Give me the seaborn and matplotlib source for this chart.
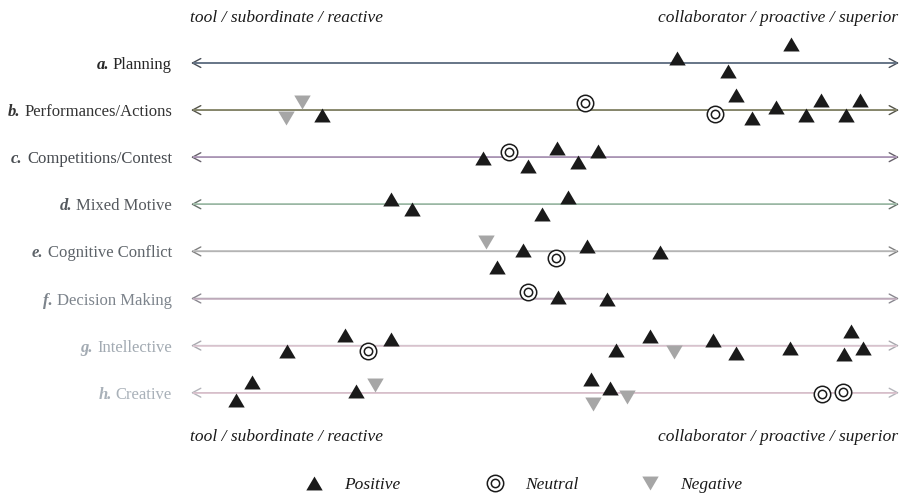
import matplotlib
matplotlib.use("Agg")
import matplotlib.pyplot as plt
import seaborn as sns
import pandas as pd
from matplotlib.lines import Line2D

# ---------------- data ----------------
letters = ["a.", "b.", "c.", "d.", "e.", "f.", "g.", "h."]
names = ["Planning", "Performances/Actions", "Competitions/Contest", "Mixed Motive",
         "Cognitive Conflict", "Decision Making", "Intellective", "Creative"]
left_label = "tool / subordinate / reactive"
right_label = "collaborator / proactive / superior"
kinds = ["Positive", "Neutral", "Negative"]

# (position on the continuum 0-100, vertical jitter in row units, kind)
a_marks = [(68.6, -0.11, "Positive"), (75.8, 0.17, "Positive"), (84.7, -0.40, "Positive")]
b_marks = [(15.7, -0.17, "Negative"), (13.4, 0.17, "Negative"), (18.5, 0.11, "Positive"),
           (55.6, -0.15, "Neutral"), (74.0, 0.09, "Neutral"), (77.0, -0.32, "Positive"),
           (79.2, 0.17, "Positive"), (82.6, -0.06, "Positive"), (86.9, 0.11, "Positive"),
           (89.0, -0.21, "Positive"), (92.5, 0.11, "Positive"), (94.5, -0.21, "Positive")]
c_marks = [(41.2, 0.02, "Positive"), (44.9, -0.11, "Neutral"), (47.6, 0.19, "Positive"),
           (51.7, -0.19, "Positive"), (54.7, 0.11, "Positive"), (57.5, -0.13, "Positive")]
d_marks = [(28.2, -0.11, "Positive"), (31.2, 0.11, "Positive"), (49.6, 0.21, "Positive"),
           (53.2, -0.15, "Positive")]
e_marks = [(41.7, -0.19, "Negative"), (43.2, 0.34, "Positive"), (46.9, -0.04, "Positive"),
           (51.6, 0.13, "Neutral"), (55.9, -0.11, "Positive"), (66.2, 0.02, "Positive")]
f_marks = [(47.6, -0.13, "Neutral"), (51.8, -0.04, "Positive"), (58.8, 0.02, "Positive")]
g_marks = [(13.6, 0.11, "Positive"), (21.8, -0.23, "Positive"), (25.0, 0.11, "Neutral"),
           (28.2, -0.13, "Positive"), (60.0, 0.09, "Positive"), (64.8, -0.21, "Positive"),
           (68.2, 0.13, "Negative"), (73.7, -0.11, "Positive"), (77.0, 0.15, "Positive"),
           (84.6, 0.06, "Positive"), (92.2, 0.17, "Positive"), (93.2, -0.30, "Positive"),
           (94.9, 0.06, "Positive")]
h_marks = [(6.4, 0.15, "Positive"), (8.6, -0.23, "Positive"), (23.3, -0.04, "Positive"),
           (26.0, -0.17, "Negative"), (56.5, -0.30, "Positive"), (56.8, 0.23, "Negative"),
           (59.2, -0.11, "Positive"), (61.6, 0.09, "Negative"), (89.1, 0.02, "Neutral"),
           (92.1, -0.02, "Neutral")]
all_marks = [a_marks, b_marks, c_marks, d_marks, e_marks, f_marks, g_marks, h_marks]

# ---------------- styling ----------------
line_colors = ["#65768a", "#8a8a6c", "#b79fc2", "#a9c9b3", "#c2c2c2", "#c9b3c4", "#e2cad5", "#dfc3cf"]
head_colors = ["#4a4f58", "#55554a", "#66606a", "#66706a", "#808080", "#8a8890", "#a8a8ae", "#b4b4ba"]
label_colors = ["#262626", "#333333", "#474b50", "#55595e", "#5e646a", "#7d848c", "#a2aab2", "#a9b1b9"]
pos_color = "#1a1a1a"
neg_color = "#a6a6a6"
SERIF = "Liberation Serif"

rows = []
for i, marks in enumerate(all_marks):
    for x, dy, k in marks:
        rows.append({"row": i, "x": x, "y": i + dy, "kind": k})
df = pd.DataFrame(rows)

sns.set_style("white")
plt.rcParams["font.family"] = [SERIF, "DejaVu Serif"]

W, H = 905, 496
fig = plt.figure(figsize=(W / 100, H / 100), dpi=100)
ax = fig.add_axes([0, 0, 1, 1])
ax.set_axis_off()

# map: x 0..100 spans pixels 191..899 ; rows spaced 47.1 px starting at 63 px
pxu = (899 - 191) / 100.0
ax.set_xlim(-191 / pxu, (W - 191) / pxu)
rs = 47.1
ax.set_ylim((H - 63) / rs, -63 / rs)

# arrows
for i in range(len(names)):
    ax.annotate("", xy=(100, i), xytext=(0, i),
                arrowprops=dict(arrowstyle="<->, head_length=0.6, head_width=0.32",
                                color=head_colors[i], lw=1.0, shrinkA=0, shrinkB=0),
                zorder=1)
    ax.plot([0.3, 99.7], [i, i], color=line_colors[i], lw=1.15, zorder=2,
            solid_capstyle="butt")

# row labels
for i, (lt, nm) in enumerate(zip(letters, names)):
    t = ax.text(-19 / pxu, i, nm, ha="right", va="center_baseline", fontsize=12,
                color=label_colors[i], family=SERIF)
    ax.annotate(lt, xy=(0, 0), xycoords=t, xytext=(-3, 0), textcoords="offset points",
                ha="right", va="bottom", fontsize=12, color=label_colors[i],
                family=SERIF, fontweight="bold", fontstyle="italic")

# markers
tri_up = [(-1, -0.85), (1, -0.85), (0, 0.85)]
tri_dn = [(-1, 0.85), (1, 0.85), (0, -0.85)]
S = 140

pos = df[df.kind == "Positive"]
neu = df[df.kind == "Neutral"]
neg = df[df.kind == "Negative"]
sns.scatterplot(data=pos, x="x", y="y", marker=tri_up, s=S, color=pos_color,
                linewidth=0, ax=ax, legend=False, zorder=5)
sns.scatterplot(data=neg, x="x", y="y", marker=tri_dn, s=S, color=neg_color,
                linewidth=0, ax=ax, legend=False, zorder=5)
sns.scatterplot(data=neu, x="x", y="y", marker="o", s=140, facecolor="white",
                edgecolor=pos_color, linewidth=1.1, ax=ax, legend=False, zorder=5)
sns.scatterplot(data=neu, x="x", y="y", marker="o", s=36, facecolor="white",
                edgecolor=pos_color, linewidth=1.1, ax=ax, legend=False, zorder=6)
ax.set_xlabel("")
ax.set_ylabel("")

# header / footer texts
hfont = dict(fontsize=12.5, fontstyle="italic", family=SERIF, color="#1a1a1a")
for yfrac in (1 - 18 / H, 1 - 437 / H):
    ax.text(190 / W, yfrac, left_label, transform=ax.transAxes, ha="left", va="center", **hfont)
    ax.text(898 / W, yfrac, right_label, transform=ax.transAxes, ha="right", va="center", **hfont)

# legend (three entries)
h_pos = Line2D([], [], ls="none", marker=tri_up, ms=11.8, color=pos_color, mew=0)
h_neu = (Line2D([], [], ls="none", marker="o", ms=11.8, mfc="white", mec=pos_color, mew=1.1),
         Line2D([], [], ls="none", marker="o", ms=6.0, mfc="white", mec=pos_color, mew=1.1))
h_neg = Line2D([], [], ls="none", marker=tri_dn, ms=11.8, color=neg_color, mew=0)
prop = dict(family=SERIF, style="italic", size=12.5)
for h, lab, xs in zip([h_pos, h_neu, h_neg], kinds, [302, 483, 638]):
    lg = fig.legend([h], [lab], loc="center left", bbox_to_anchor=(xs / W, 1 - 485 / H),
                    frameon=False, prop=prop, handlelength=1.4, handletextpad=1.0,
                    borderpad=0, borderaxespad=0)
    for txt in lg.get_texts():
        txt.set_color("#1a1a1a")

fig.savefig("out.png", dpi=100)
